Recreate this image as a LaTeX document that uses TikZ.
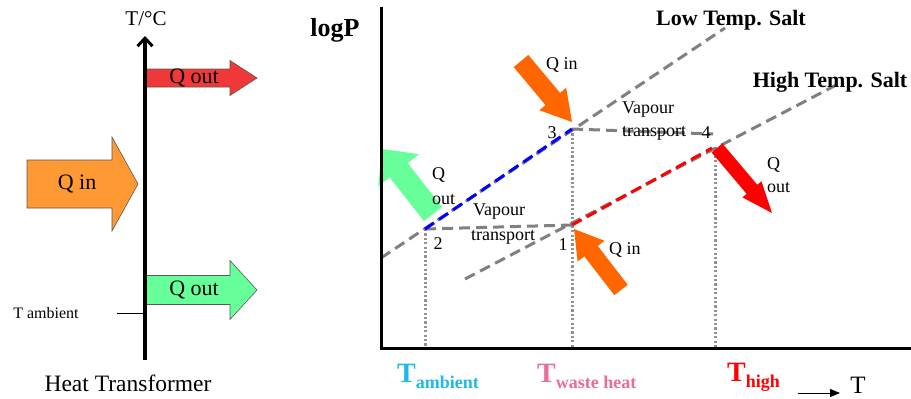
\documentclass[tikz,border=0pt]{standalone}
\usepackage{fontspec}
\setmainfont{Liberation Serif}
\usetikzlibrary{calc,arrows.meta}
\definecolor{dgray}{RGB}{128,128,128}
\definecolor{redA}{RGB}{240,56,56}
\definecolor{orangeA}{RGB}{255,153,51}
\definecolor{greenA}{RGB}{102,255,153}
\definecolor{orangeB}{RGB}{255,102,0}
\definecolor{redB}{RGB}{255,0,0}
\definecolor{cyanT}{RGB}{30,185,230}
\definecolor{pinkT}{RGB}{232,110,150}
\newcommand\myfs[1]{\fontsize{#1}{#1}\selectfont}
% fat block arrow: #1 tail, #2 tip, #3 shaft half width, #4 head half width, #5 head length, #6 style
\newcommand\fatarrow[6]{%
  \path ($(#2)!#5!(#1)$) coordinate (fah);
  \filldraw[#6] ($(#1)!#3!90:(#2)$) -- ($(fah)!#3!90:(#2)$) -- ($(fah)!#4!90:(#2)$) -- (#2)
    -- ($(fah)!#4!-90:(#2)$) -- ($(fah)!#3!-90:(#2)$) -- ($(#1)!#3!-90:(#2)$) -- cycle;}
\begin{document}
\begin{tikzpicture}[x=1pt,y=-1pt,
  gdash/.style={draw=dgray, line width=3pt, dash pattern=on 11pt off 6pt},
  cdash/.style={line width=3pt, dash pattern=on 11pt off 6pt},
  gdot/.style={draw=dgray!85, line width=3pt, dash pattern=on 2.2pt off 2.2pt},
  lbl/.style={inner sep=0pt, font=\myfs{18}},
  blbl/.style={inner sep=0pt, font=\myfs{22}\bfseries},
  qlbl/.style={inner sep=0pt, font=\myfs{22}},
  blk/.style={draw=gray!70!black, line width=0.6pt}]
\useasboundingbox (0,0) rectangle (911,399);

% ---------------- left: heat transformer ----------------
\coordinate (axB) at (145,360);
\coordinate (axT) at (145,36);
\coordinate (rqT) at (145,78);  \coordinate (rqH) at (257,78);
\coordinate (oqT) at (27,184);  \coordinate (oqH) at (138,184);
\coordinate (gqT) at (145,290); \coordinate (gqH) at (257,290);
\fatarrow{rqT}{rqH}{9pt}{17.5pt}{27pt}{blk, fill=redA}
\fatarrow{oqT}{oqH}{24pt}{47pt}{26pt}{blk, fill=orangeA}
\fatarrow{gqT}{gqH}{14.5pt}{29.5pt}{27pt}{blk, fill=greenA}
\node[qlbl] (rqL) at (194,78) {Q out};
\node[qlbl] (oqL) at (77,184) {Q in};
\node[qlbl] (gqL) at (194,290) {Q out};
\draw[line width=4pt, -{Straight Barb[length=8pt,width=15pt,line width=3pt]}] (axB) -- (axT);
\node[inner sep=0pt, font=\myfs{21}] (tc) at (146,19) {T/°C};
\coordinate (ta0) at (117,313); \coordinate (ta1) at (143,313);
\draw[line width=0.8pt] (ta0) -- (ta1);
\node[inner sep=0pt, font=\myfs{16}] (tamb) at (46,313) {T ambient};
\node[inner sep=0pt, font=\myfs{23.5}] (ht) at (128,383) {Heat Transformer};

% ---------------- right: logP diagram ----------------
\coordinate (o) at (381,348);
\coordinate (yT) at (381,7);
\coordinate (xR) at (911,348);
\coordinate (p1) at (572,225);
\coordinate (p2) at (425,229);
\coordinate (p3) at (572,129);
\coordinate (lt0) at (381,258); \coordinate (lt1) at (725,28);
\coordinate (ht0) at (465,279); \coordinate (ht1) at (840,83);
\coordinate (d2) at (425,348); \coordinate (d1) at (572,348); \coordinate (d4) at (715,348);
\coordinate (d4t) at (715,147);
\coordinate (v4) at (713,134);
\coordinate (r4) at (712,148);

% dotted verticals
\draw[gdot] (p2) -- (d2);
\draw[gdot] (p3) -- (d1);
\draw[gdot] (d4t) -- (d4);
% salt lines
\draw[gdash] (lt0) -- (lt1);
\draw[gdash] (ht0) -- (ht1);
% vapour transport
\draw[gdash] (p3) -- (v4);
\draw[gdash] (p1) -- (p2);
% coloured segments
\draw[cdash, draw=blue] (p2) -- (p3);
\draw[cdash, draw=red] (p1) -- (r4);

% fat arrows
\coordinate (aq1t) at (521,61);  \coordinate (aq1h) at (572,122);
\coordinate (aq2t) at (621,290); \coordinate (aq2h) at (574,229);
\coordinate (agt) at (433,214);  \coordinate (agh) at (382,149);
\coordinate (art) at (717,148);  \coordinate (arh) at (772,213);
\fatarrow{aq1t}{aq1h}{9.5pt}{17.5pt}{30pt}{draw=none, fill=orangeB}
\fatarrow{aq2t}{aq2h}{8.5pt}{17pt}{28pt}{draw=none, fill=orangeB}
\fatarrow{agt}{agh}{11.5pt}{26pt}{27pt}{draw=none, fill=greenA}
\fatarrow{art}{arh}{7pt}{12.5pt}{31pt}{draw=none, fill=redB}

% axes
\draw[line width=3pt] (yT) -- (o) -- (xR);

% labels
\node[inner sep=0pt, font=\myfs{26}\bfseries] (logp) at (335,30) {logP};
\node[blbl] (lts) at (731,20) {Low Temp. Salt};
\node[blbl] (hts) at (830,82) {High Temp. Salt};
\node[lbl, anchor=west] (qin1) at (546,65) {Q in};
\node[lbl, anchor=west] (qin2) at (609,250) {Q in};
\node[lbl, anchor=west] (gq) at (432,175) {Q};
\node[lbl, anchor=west] (gout) at (432,200) {out};
\node[lbl, anchor=west] (rq) at (767,165) {Q};
\node[lbl, anchor=west] (rout) at (767,188) {out};
\node[lbl, anchor=west] (v1) at (622,110) {Vapour};
\node[lbl, anchor=west] (t1) at (622,133) {transport};
\node[lbl, anchor=west] (v2) at (473,212) {Vapour};
\node[lbl, anchor=west] (t2) at (471,237) {transport};
\node[lbl] (n3) at (552,133) {3};
\node[lbl] (n2) at (438,244) {2};
\node[lbl] (n1) at (563,245) {1};
\node[lbl] (n4) at (706,133) {4};

\node[inner sep=0pt, anchor=base west, text=cyanT, font=\bfseries] (tA) at (397,382)
  {{\myfs{28}T}\raisebox{-6pt}{\myfs{18}ambient}};
\node[inner sep=0pt, anchor=base west, text=pinkT, font=\bfseries] (tW) at (537,382)
  {{\myfs{28}T}\raisebox{-6pt}{\myfs{18}waste heat}};
\node[inner sep=0pt, anchor=base west, text=red, font=\bfseries] (tH) at (727,381)
  {{\myfs{28}T}\raisebox{-6pt}{\myfs{18}high}};
\coordinate (ta) at (798,393); \coordinate (tb) at (840,393);
\draw[line width=1pt, -{Triangle[length=10pt,width=8pt]}] (ta) -- (tb);
\node[inner sep=0pt, font=\myfs{25}] (tT) at (858,385) {T};
\end{tikzpicture}
\end{document}
